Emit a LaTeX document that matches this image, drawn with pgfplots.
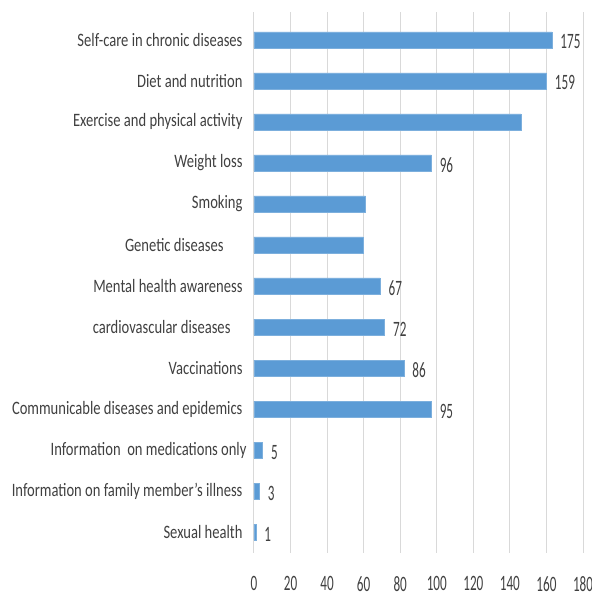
\documentclass[border=0pt]{standalone}
\usepackage{fontspec}
\setmainfont{Carlito}[FakeStretch=0.77]
\newfontfamily\numfont{Carlito}[FakeStretch=0.6]
\usepackage{pgfplots}
\usepackage{pgfplotstable}
\pgfplotsset{compat=1.18}
\definecolor{barblue}{HTML}{5B9BD5}
\definecolor{gridgray}{HTML}{D9D9D9}
\definecolor{txt}{HTML}{404040}
\pgfplotstableread{
i v lab
0 163 175
1 160 159
2 146 {}
3 97 96
4 61 {}
5 59.5 {}
6 69 67
7 71.5 72
8 82 86
9 97 95
10 4.7 5
11 2.9 3
12 1 1
}\datatab
\begin{document}
\begin{tikzpicture}
\path[use as bounding box] (-254bp,-44bp) rectangle (338bp,553bp);
\begin{axis}[at={(0,0)}, anchor=south west, scale only axis,
  width=329bp, height=541bp,
  xbar, bar width=16bp,
  xmin=0, xmax=180, ymin=-0.68, ymax=12.51, y dir=reverse,
  xtick={0,20,...,180}, ytick={0,...,12},
  yticklabels={Self-care in chronic diseases, Diet and nutrition, Exercise and physical activity, Weight loss, Smoking, Genetic diseases\hspace*{19bp}, Mental health awareness, cardiovascular diseases\hspace*{12bp}, Vaccinations, Communicable diseases and epidemics, Information\ \ on medications only\hspace*{-4bp}, Information on family member's illness, Sexual health},
  separate axis lines,
  x axis line style={draw=none},
  y axis line style={draw=gridgray, line width=1bp},
  major tick length=0pt,
  xmajorgrids, grid style={gridgray, line width=1bp},
  /pgf/number format/assume math mode=true,
  yticklabel style={font=\fontsize{19}{19}\selectfont, text=txt, xshift=-8bp},
  xticklabel style={font=\numfont\fontsize{22}{22}\selectfont, text=txt, yshift=-20bp},
  point meta=explicit symbolic,
  nodes near coords,
  nodes near coords style={anchor=west, xshift=5bp, yshift=-2bp, font=\numfont\fontsize{22}{22}\selectfont, text=txt},
]
\addplot[fill=barblue, draw=barblue!80!white] table[x=v, y=i, meta=lab] {\datatab};
\end{axis}
\end{tikzpicture}
\end{document}
